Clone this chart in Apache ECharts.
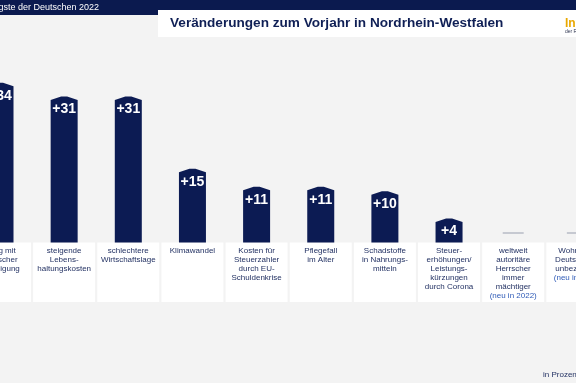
<!DOCTYPE html>
<html>
<head>
<meta charset="utf-8">
<script src="https://cdn.jsdelivr.net/npm/echarts@6/dist/echarts.min.js"></script>
<style>html,body{margin:0;padding:0;background:#f3f3f3;}#c{width:576px;height:383px;}</style>
</head>
<body>
<div id="c"></div>
<script>
const categories = [
  "Krieg mit\ndeutscher\nBeteiligung",
  "steigende\nLebens-\nhaltungskosten",
  "schlechtere\nWirtschaftslage",
  "Klimawandel",
  "Kosten für\nSteuerzahler\ndurch EU-\nSchuldenkrise",
  "Pflegefall\nim Alter",
  "Schadstoffe\nin Nahrungs-\nmitteln",
  "Steuer-\nerhöhungen/\nLeistungs-\nkürzungen\ndurch Corona",
  "weltweit\nautoritäre\nHerrscher\nimmer\nmächtiger",
  "Wohnen in\nDeutschland\nunbezahlbar"
];
const isNew = [false, false, false, false, false, false, false, false, true, true];
const values = [34, 31, 31, 15, 11, 11, 10, 4, null, null];

const NAVY = '#0c1b53';
const TXT = '#1c2b5e';
const FONT = '"Liberation Sans", Arial, sans-serif';

const chart = echarts.init(document.getElementById('c'));
const data = categories.map((c, i) => [i, values[i] === null ? 0 : values[i], values[i] === null ? 1 : 0]);

function renderItem(params, api) {
  const i = api.value(0);
  const v = api.value(1);
  const empty = api.value(2) === 1;
  const base = api.coord([i, 0]);
  const top = api.coord([i, v]);
  const cx = base[0];
  const children = [];
  const boxTop = base[1] + 2.5;
  children.push({
    type: 'rect',
    shape: { x: cx - 31, y: boxTop, width: 62, height: 59.5 },
    style: { fill: '#ffffff' }
  });
  let txt = categories[i];
  if (isNew[i]) txt += '\n{n|(neu in 2022)}';
  children.push({
    type: 'text',
    x: cx, y: boxTop + 4,
    style: {
      text: txt, fill: TXT, font: '8px ' + FONT, align: 'center', verticalAlign: 'top', lineHeight: 9,
      rich: { n: { fill: '#2f5bb7', fontSize: 8, fontFamily: FONT, lineHeight: 9 } }
    }
  });
  if (!empty) {
    const h = 13.5, cap = 3.5, b = base[1] + 2.5, t = top[1];
    children.push({
      type: 'polygon',
      shape: { points: [[cx - h, b], [cx - h, t], [cx - 3, t - cap], [cx + 3, t - cap], [cx + h, t], [cx + h, b]] },
      style: { fill: NAVY }
    });
    children.push({
      type: 'text',
      x: cx, y: t + 9.5,
      style: { text: '+' + v, fill: '#ffffff', font: 'bold 14px ' + FONT, align: 'center', verticalAlign: 'middle' }
    });
  } else {
    children.push({
      type: 'line',
      shape: { x1: cx - 10.5, y1: base[1] - 7, x2: cx + 10.5, y2: base[1] - 7 },
      style: { stroke: '#a9aebb', lineWidth: 1.2 }
    });
  }
  return { type: 'group', children };
}

chart.setOption({
  backgroundColor: '#f3f3f3',
  animation: false,
  grid: { left: 0, right: 0, top: 59.2, height: 180.8 },
  xAxis: { type: 'value', min: 0, max: 8.979, show: false },
  yAxis: { type: 'value', min: 0, max: 40, show: false },
  series: [{ type: 'custom', renderItem, data, clip: false }],
  graphic: [
    { type: 'rect', shape: { x: 0, y: 0, width: 576, height: 15 }, style: { fill: '#0b1a4f' } },
    { type: 'text', x: 99, y: 7.5, style: { text: 'Die größten Ängste der Deutschen 2022', fill: '#ffffff', font: '9px ' + FONT, align: 'right', verticalAlign: 'middle' } },
    { type: 'rect', shape: { x: 158, y: 10, width: 420, height: 27 }, style: { fill: '#ffffff' } },
    { type: 'text', x: 170, y: 23.5, style: { text: 'Veränderungen zum Vorjahr in Nordrhein-Westfalen', fill: '#0f1f55', font: 'bold 13.6px ' + FONT, verticalAlign: 'middle' } },
    { type: 'text', x: 565, y: 24, style: { text: 'Infocenter', fill: '#e9a800', font: 'bold 12px ' + FONT, verticalAlign: 'middle' } },
    { type: 'text', x: 565, y: 32, style: { text: 'der R+V Versicherung', fill: '#333a55', font: '5px ' + FONT, verticalAlign: 'middle' } },
    { type: 'text', x: 543, y: 374.5, style: { text: 'in Prozentpunkten', fill: TXT, font: '8px ' + FONT, verticalAlign: 'middle' } }
  ]
});
</script>
</body>
</html>
